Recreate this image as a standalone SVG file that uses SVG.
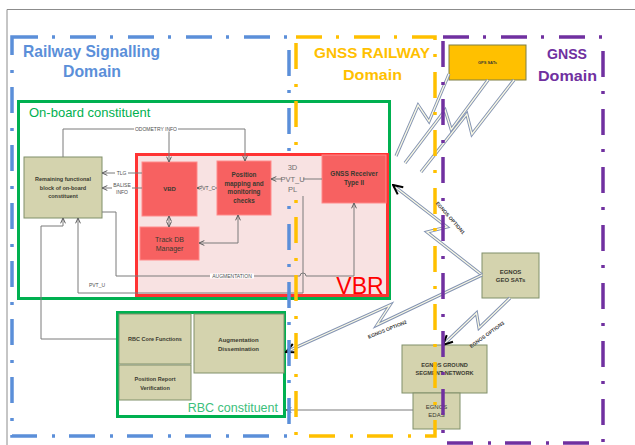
<svg xmlns="http://www.w3.org/2000/svg" width="635" height="445" viewBox="0 0 635 445">
  <defs>
    <style>
      .frame { fill: none; stroke: #8c8c8c; stroke-width: 1; }
      .dom { fill: none; stroke-width: 3.5; stroke-dasharray: 26 14 3 15; }
      .title { font-family: "Liberation Sans", Arial, sans-serif; font-weight: bold; text-anchor: middle; }
      .olive { fill: #d4d3ae; stroke: #80906a; stroke-width: 1; }
      .red { fill: #f76161; stroke: #ff8a8a; stroke-width: 1; }
      .lbl { font-family: "Liberation Sans", Arial, sans-serif; font-weight: bold; fill: #3a3a30; text-anchor: middle; }
      .conn { fill: none; stroke: #7a7a7a; stroke-width: 1; }
      .clbl { font-family: "Liberation Sans", Arial, sans-serif; font-size: 5px; fill: #505050; text-anchor: middle; }
      .bolt-o { fill: none; stroke: #8393b3; stroke-width: 3.2; stroke-linejoin: miter; }
      .bolt-i { fill: none; stroke: #fbfae4; stroke-width: 1.3; stroke-linejoin: miter; }
      .olbl { font-family: "Liberation Sans", Arial, sans-serif; font-size: 5px; font-weight: bold; fill: #3a3a3a; text-anchor: middle; }
    </style>
    <marker id="arr" viewBox="0 0 6 6" refX="5.6" refY="3" markerWidth="6" markerHeight="6" orient="auto-start-reverse" markerUnits="userSpaceOnUse">
      <path d="M0.3,0.6 L5.6,3 L0.3,5.4" fill="none" stroke="#5e5e5e" stroke-width="1"/>
    </marker>
    <marker id="barr" viewBox="0 0 12 12" refX="11" refY="6" markerWidth="12" markerHeight="12" orient="auto" markerUnits="userSpaceOnUse">
      <path d="M1.5,1.5 L11,6 L1.5,10.5" fill="none" stroke="#000" stroke-width="2"/>
    </marker>
  </defs>

  <rect width="635" height="445" fill="#ffffff"/>
  <path class="frame" d="M7,445 V9.5 H635"/>

  <!-- on-board constituent container -->
  <g id="onboard">
    <rect x="18.5" y="101.5" width="371" height="197" fill="#ffffff" stroke="#00b050" stroke-width="3"/>
    <text x="29" y="117" font-family="Liberation Sans, Arial, sans-serif" font-size="13" fill="#00b050">On-board constituent</text>
  </g>

  <!-- VBR region -->
  <g id="vbr">
    <rect x="136.5" y="154.5" width="251" height="141" fill="#f8e2e2" stroke="#ff3333" stroke-width="3"/>
    <text x="360" y="294" font-family="Liberation Sans, Arial, sans-serif" font-size="23" fill="#ff0000" text-anchor="middle">VBR</text>
  </g>

  <!-- RBC constituent container -->
  <g id="rbc">
    <rect x="117.5" y="312.5" width="167" height="104" fill="#ffffff" stroke="#00b050" stroke-width="3"/>
    <text x="278" y="412" font-family="Liberation Sans, Arial, sans-serif" font-size="12.5" fill="#3cc07c" text-anchor="end">RBC constituent</text>
  </g>

  <g id="remaining">
    <rect class="olive" x="24" y="157" width="78" height="61"/>
    <text class="lbl" font-size="5.5"><tspan x="63" y="181">Remaining functional</tspan><tspan x="63" y="189.5">block of on-board</tspan><tspan x="63" y="198">constituent</tspan></text>
  </g>

  <g id="vbd">
    <rect class="red" x="142" y="162" width="55" height="54"/>
    <text class="lbl" font-size="6" x="169.5" y="191">VBD</text>
  </g>

  <g id="trackdb">
    <rect class="red" x="140" y="227" width="59" height="33"/>
    <text class="lbl" font-size="7" font-weight="normal" style="font-weight:normal"><tspan x="169.5" y="241.5">Track DB</tspan><tspan x="169.5" y="250.5">Manager</tspan></text>
  </g>

  <g id="posmap">
    <rect class="red" x="217" y="161" width="54" height="54"/>
    <text class="lbl" font-size="6.3"><tspan x="244" y="177">Position</tspan><tspan x="244" y="185.5">mapping and</tspan><tspan x="244" y="194">monitoring</tspan><tspan x="244" y="202.5">checks</tspan></text>
  </g>

  <g id="gnssrx">
    <rect class="red" x="322" y="155" width="64" height="48"/>
    <text class="lbl" font-size="6.5"><tspan x="354" y="176">GNSS Receiver</tspan><tspan x="354" y="185">Type II</tspan></text>
  </g>

  <g id="rbccore">
    <rect class="olive" x="119" y="314" width="72" height="50"/>
    <text class="lbl" font-size="5.5" x="155" y="341">RBC Core Functions</text>
  </g>

  <g id="posrep">
    <rect class="olive" x="119" y="365" width="72" height="35"/>
    <text class="lbl" font-size="5.5"><tspan x="155" y="381">Position Report</tspan><tspan x="155" y="389.5">Verification</tspan></text>
  </g>

  <g id="augdis">
    <rect class="olive" x="194" y="314" width="90" height="59"/>
    <text class="lbl" font-size="6"><tspan x="238.5" y="342">Augmentation</tspan><tspan x="238.5" y="350.5">Dissemination</tspan></text>
  </g>

  <g id="gps">
    <rect x="449" y="45" width="77" height="35" fill="#ffc000" stroke="#7f7f45" stroke-width="1"/>
    <text class="lbl" font-size="4" x="487.5" y="63.5">GPS SATs</text>
  </g>

  <g id="egnosgeo">
    <rect class="olive" x="482" y="253" width="57" height="45"/>
    <text class="lbl" font-size="6"><tspan x="510.5" y="274">EGNOS</tspan><tspan x="510.5" y="282">GEO SATs</tspan></text>
  </g>

  <g id="egnosground">
    <rect class="olive" x="402" y="345" width="85" height="48"/>
    <text class="lbl" font-size="5.6"><tspan x="444.5" y="367">EGNOS GROUND</tspan><tspan x="444.5" y="375">SEGMENT NETWORK</tspan></text>
  </g>

  <g id="egnosedas">
    <rect class="olive" x="413" y="393" width="47" height="36"/>
    <text class="lbl" font-size="6" font-weight="normal" style="font-weight:normal"><tspan x="436.5" y="409">EGNOS</tspan><tspan x="436.5" y="417">EDAS</tspan></text>
  </g>

  <!-- connectors -->
  <g id="connectors">
    <path class="conn" d="M63,157 V129 H245 V161" marker-end="url(#arr)"/>
    <path class="conn" d="M169,129 V162" marker-end="url(#arr)"/>
    <rect x="134" y="126.5" width="44" height="5" fill="#ffffff"/>
    <text class="clbl" x="156" y="130.8">ODOMETRY INFO</text>

    <path class="conn" d="M142,173 H102" marker-end="url(#arr)"/>
    <rect x="115" y="170.5" width="13" height="5" fill="#ffffff"/>
    <text class="clbl" x="121.5" y="174.8">TLG</text>

    <path class="conn" d="M142,188 H102" marker-end="url(#arr)"/>
    <rect x="112" y="181" width="20" height="13" fill="#ffffff"/>
    <text class="clbl"><tspan x="122" y="186.5">BALISE</tspan><tspan x="122" y="193.5">INFO</tspan></text>

    <path class="conn" d="M217,188 H197" marker-end="url(#arr)"/>
    <rect x="199" y="185.5" width="16" height="5" fill="#f8e2e2"/>
    <text class="clbl" x="207" y="189.8">PVT_C</text>

    <path class="conn" d="M322,179 H271" marker-end="url(#arr)"/>

    <path class="conn" d="M169,216 V227" marker-start="url(#arr)" marker-end="url(#arr)"/>
    <path class="conn" d="M238,215 V243 H199" marker-start="url(#arr)" marker-end="url(#arr)"/>

    <path class="conn" d="M102,212 H116 V276 H300 a3,3 0 0 1 6,0 H354 V203" marker-end="url(#arr)"/>
    <rect x="210" y="273.5" width="44" height="5" fill="#ffffff"/>
    <text class="clbl" x="232" y="277.8">AUGMENTATION</text>

    <path class="conn" d="M303,196 V293 H78 V218" marker-end="url(#arr)"/>
    <text class="clbl" x="97" y="287" font-size="5.5">PVT_U</text>

    <path class="conn" d="M116,339 H41 V226 H63 V218" marker-end="url(#arr)"/>

    <path class="conn" d="M413,410 H286" marker-end="url(#arr)"/>

    <!-- radio links -->
    <path class="bolt-o" d="M449,74 L429,121.5 L418.1,105.2 L396,156"/>
    <path class="bolt-i" d="M449,74 L429,121.5 L418.1,105.2 L396,156"/>
    <path class="bolt-o" d="M488,80 L451.2,129.6 L445.1,110.1 L405,163"/>
    <path class="bolt-i" d="M488,80 L451.2,129.6 L445.1,110.1 L405,163"/>
    <path class="bolt-o" d="M514,80 L471.9,134.2 L466.8,114.1 L421,172"/>
    <path class="bolt-i" d="M514,80 L471.9,134.2 L466.8,114.1 L421,172"/>

    <path class="bolt-o" d="M482,275 L427,232 L447,227 L394,186"/>
    <path class="bolt-i" d="M482,275 L427,232 L447,227 L394,186"/>
    <path d="M447,227 L393,185" fill="none" stroke="none" marker-end="url(#barr)"/>

    <path class="bolt-o" d="M482,275 L377,325 L390,305 L287,351.5"/>
    <path class="bolt-i" d="M482,275 L377,325 L390,305 L287,351.5"/>
    <path d="M390,305 L286,352" fill="none" stroke="none" marker-end="url(#barr)"/>

    <path class="bolt-o" d="M510,298 L479,328 L476.5,313 L444,344"/>
    <path class="bolt-i" d="M510,298 L479,328 L476.5,313 L444,344"/>
    <path d="M476.5,313 L443,345" fill="none" stroke="none" marker-end="url(#barr)"/>
  </g>

  <!-- domain boundaries -->
  <g id="domains">
    <rect class="dom" x="12" y="37" width="277" height="399" stroke="#5b8fd9"/>
    <rect class="dom" x="296" y="37" width="139" height="399" stroke="#ffc000"/>
    <rect class="dom" x="443" y="37" width="160" height="406" stroke="#7030a0" stroke-width="4"/>
    <text class="title" font-size="17" fill="#5b8fd9" x="91.5" y="57" textLength="137" lengthAdjust="spacingAndGlyphs">Railway Signalling</text>
    <text class="title" font-size="17" fill="#5b8fd9" x="92" y="77" textLength="58" lengthAdjust="spacingAndGlyphs">Domain</text>
    <text class="title" font-size="15.5" fill="#ffc000" x="372" y="58" textLength="116" lengthAdjust="spacingAndGlyphs">GNSS RAILWAY</text>
    <text class="title" font-size="15.5" fill="#ffc000" x="372.5" y="80" textLength="59" lengthAdjust="spacingAndGlyphs">Domain</text>
    <text class="title" font-size="15.5" fill="#7030a0" x="567" y="59" textLength="40" lengthAdjust="spacingAndGlyphs">GNSS</text>
    <text class="title" font-size="15.5" fill="#7030a0" x="567.5" y="81" textLength="59" lengthAdjust="spacingAndGlyphs">Domain</text>
  </g>

  <!-- labels drawn over the boundaries -->
  <g id="pvt-label">
    <rect x="282" y="159" width="21" height="36" fill="#f8e2e2"/>
    <text font-family="Liberation Sans, Arial, sans-serif" font-size="7.5" fill="#707070" text-anchor="middle"><tspan x="292.5" y="169.5">3D</tspan><tspan x="292.5" y="181.5">PVT_U</tspan><tspan x="292.5" y="192">PL</tspan></text>
  </g>
  <g id="option-labels">
    <text class="olbl" transform="translate(449,219) rotate(49)">EGNOS OPTION1</text>
    <text class="olbl" transform="translate(388,331) rotate(-22)">EGNOS OPTION2</text>
    <text class="olbl" transform="translate(488,336) rotate(-36)">EGNOS OPTION3</text>
  </g>
</svg>
